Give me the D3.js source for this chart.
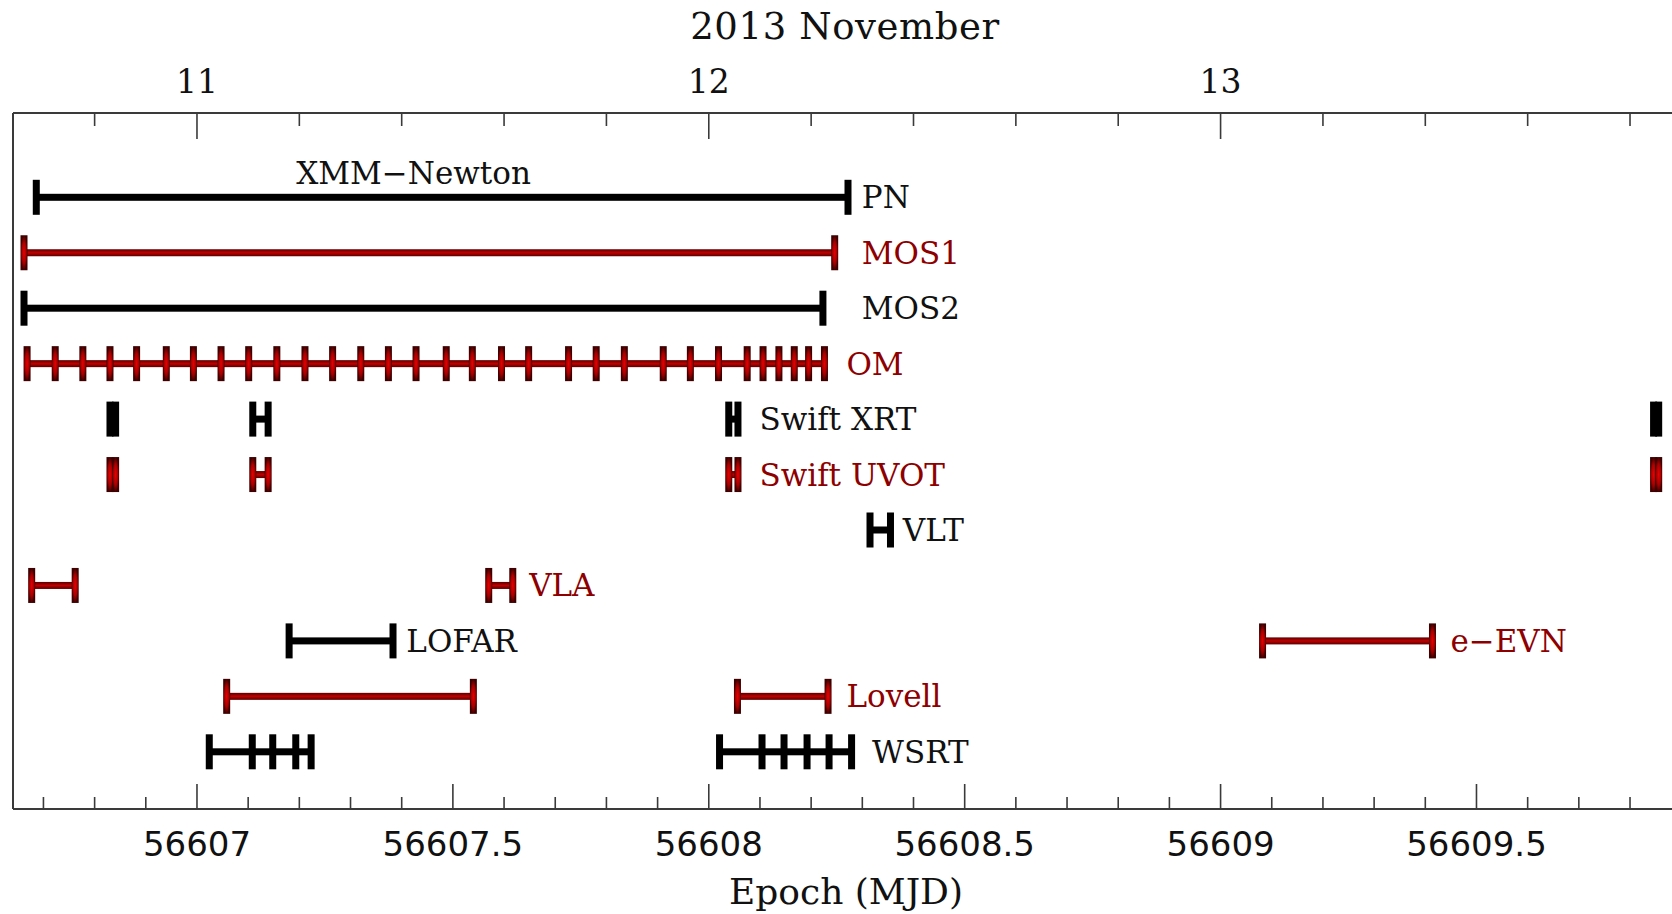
<!DOCTYPE html>
<html>
<head>
<meta charset="utf-8">
<script src="https://cdn.jsdelivr.net/npm/d3@7"></script>
<style>
	body { margin: 0; background: #fff; }
	svg text { font-family: "DejaVu Serif", serif; }
</style>
</head>
<body>
<svg id="figure_container"></svg>
<script>
// instruments, one per drawn series (e-EVN shares the LOFAR lane)
var instruments = ["PN", "MOS1", "MOS2", "OM", "Swift XRT", "Swift UVOT", "VLT",
		"VLA", "LOFAR", "e\u2212EVN", "Lovell", "WSRT"],
	lanes = [0, 1, 2, 3, 4, 5, 6, 7, 8, 8, 9, 10],
	isRed = [false, true, false, true, false, true, false, true, false, true, true, false];

// observing windows (MJD); each segment lists its end marks in order
var pnWin = [[56606.687, 56608.273]],
	mos1Win = [[56606.663, 56608.247]],
	mos2Win = [[56606.663, 56608.224]],
	omWin = [[56606.669, 56606.724, 56606.778, 56606.831, 56606.883, 56606.941,
		56606.994, 56607.048, 56607.102, 56607.157, 56607.212, 56607.266,
		56607.321, 56607.375, 56607.429, 56607.488, 56607.539, 56607.596,
		56607.649, 56607.727, 56607.781, 56607.836, 56607.912, 56607.965,
		56608.020, 56608.076, 56608.107, 56608.138, 56608.168, 56608.196,
		56608.227]],
	xrtWin = [[56606.831, 56606.842], [56607.110, 56607.140],
		[56608.040, 56608.058], [56609.847, 56609.857]],
	uvotWin = [[56606.831, 56606.842], [56607.110, 56607.140],
		[56608.040, 56608.058], [56609.847, 56609.857]],
	vltWin = [[56608.316, 56608.356]],
	vlaWin = [[56606.678, 56606.763], [56607.571, 56607.618]],
	lofarWin = [[56607.181, 56607.384]],
	evnWin = [[56609.083, 56609.415]],
	lovellWin = [[56607.059, 56607.541], [56608.057, 56608.234]],
	wsrtWin = [[56607.025, 56607.109, 56607.149, 56607.194, 56607.224],
		[56608.022, 56608.105, 56608.148, 56608.193, 56608.236, 56608.280]];

var windows = [pnWin, mos1Win, mos2Win, omWin, xrtWin, uvotWin, vltWin,
		vlaWin, lofarWin, evnWin, lovellWin, wsrtWin];

// where each name is written (MJD)
var labelAt = [56608.30, 56608.30, 56608.30, 56608.27, 56608.10, 56608.10,
		56608.38, 56607.65, 56607.41, 56609.45, 56608.27, 56608.32];

var mjdMajor = [56607, 56607.5, 56608, 56608.5, 56609, 56609.5],
	mjdLabels = ["56607", "56607.5", "56608", "56608.5", "56609", "56609.5"],
	dayMajor = [11, 12, 13],
	dayLabels = ["11", "12", "13"];

var W = 1672, H = 914,
	leftX = 13, topY = 113, bottomY = 809,
	mjdMin = 56606.6415, mjdMax = 56609.97,
	dayOffset = 56596; // MJD 56607 = 2013 Nov 11

var vis = d3.select("#figure_container").attr("width", W).attr("height", H);
vis.append("rect").attr("width", W).attr("height", H).attr("fill", "#fff");

var x = d3.scaleLinear().domain([mjdMin, mjdMax]).range([leftX, leftX + (mjdMax - mjdMin) * 511.8]);
var xDay = d3.scaleLinear().domain([mjdMin - dayOffset, mjdMax - dayOffset]).range(x.range());
var y = d3.scalePoint().domain(d3.range(11)).range([197.3, 751.8]);

// gradients for the shaded red bars
var defs = vis.append("defs");
var gLine = defs.append("linearGradient").attr("id", "redLine")
	.attr("x1", 0).attr("y1", 0).attr("x2", 0).attr("y2", 1);
gLine.append("stop").attr("offset", "0%").attr("stop-color", "#5a0000");
gLine.append("stop").attr("offset", "50%").attr("stop-color", "#c00000");
gLine.append("stop").attr("offset", "100%").attr("stop-color", "#5a0000");
var gCap = defs.append("radialGradient").attr("id", "redCap")
	.attr("cx", 0.5).attr("cy", 0.5).attr("r", 0.5);
gCap.append("stop").attr("offset", "0%").attr("stop-color", "#e80000");
gCap.append("stop").attr("offset", "60%").attr("stop-color", "#a80000");
gCap.append("stop").attr("offset", "100%").attr("stop-color", "#3c0000");

// frame
var frame = vis.append("g").attr("stroke", "#3a3a3a").attr("stroke-width", 2);
frame.append("line").attr("x1", leftX).attr("x2", W + 5).attr("y1", topY).attr("y2", topY);
frame.append("line").attr("x1", leftX).attr("x2", W + 5).attr("y1", bottomY).attr("y2", bottomY);
frame.append("line").attr("x1", leftX).attr("x2", leftX).attr("y1", topY).attr("y2", bottomY);

// minor tick positions
var mjdMinor = d3.range(0, 40).map(function(i){ return 56606 + i / 10; })
	.filter(function(d){ return d > mjdMin && d < mjdMax && mjdMajor.indexOf(Math.round(d * 10) / 10) < 0; });
var dayMinor = d3.range(0, 25).map(function(i){ return 10 + i / 5; })
	.filter(function(d){ return d > mjdMin - dayOffset && d < mjdMax - dayOffset && dayMajor.indexOf(Math.round(d * 10) / 10) < 0; });

function styleAxis(g){
	g.select(".domain").remove();
	g.selectAll(".tick line").attr("stroke", "#3a3a3a").attr("stroke-width", 1.6);
}

// bottom axis (MJD)
vis.append("g").attr("transform", "translate(0," + bottomY + ")")
	.call(d3.axisBottom(x).tickValues(mjdMinor).tickSize(-12).tickFormat(""))
	.call(styleAxis);
var bAx = vis.append("g").attr("transform", "translate(0," + bottomY + ")")
	.call(d3.axisBottom(x).tickValues(mjdMajor).tickSize(-25)
		.tickFormat(function(d, i){ return mjdLabels[i]; }))
	.call(styleAxis);
bAx.selectAll("text").attr("y", 47).attr("dy", null)
	.attr("fill", "#111").style("font-family", "'DejaVu Sans', sans-serif").style("font-size", "34px");

// top axis (day of 2013 November)
vis.append("g").attr("transform", "translate(0," + topY + ")")
	.call(d3.axisTop(xDay).tickValues(dayMinor).tickSize(-13).tickFormat(""))
	.call(styleAxis);
var tAx = vis.append("g").attr("transform", "translate(0," + topY + ")")
	.call(d3.axisTop(xDay).tickValues(dayMajor).tickSize(-26)
		.tickFormat(function(d, i){ return dayLabels[i]; }))
	.call(styleAxis);
tAx.selectAll("text").attr("y", -20).attr("dy", null)
	.attr("fill", "#111").style("font-family", "'DejaVu Serif', serif").style("font-size", "33px");

vis.append("text").attr("x", 845).attr("y", 39).attr("text-anchor", "middle")
	.style("font-size", "37px").style("letter-spacing", "0.6px").attr("fill", "#111").text("2013 November");
vis.append("text").attr("x", 846).attr("y", 904).attr("text-anchor", "middle")
	.style("font-size", "36px").attr("fill", "#111").text("Epoch (MJD)");

// observation bars
var lineW = 7, capW = 7, capH = 35;

instruments.forEach(function(name, i){
	var yc = y(lanes[i]),
		fillLine = isRed[i] ? "url(#redLine)" : "#000",
		fillCap = isRed[i] ? "url(#redCap)" : "#000",
		g = vis.append("g");

	windows[i].forEach(function(seg){
		g.append("rect")
			.attr("x", x(seg[0]))
			.attr("y", yc - lineW / 2)
			.attr("width", x(seg[seg.length - 1]) - x(seg[0]))
			.attr("height", lineW)
			.attr("fill", fillLine);
		g.selectAll(null).data(seg).enter().append("rect")
			.attr("x", function(d){ return x(d) - capW / 2; })
			.attr("y", yc - capH / 2)
			.attr("width", capW)
			.attr("height", capH)
			.attr("fill", fillCap);
	});

	vis.append("text")
		.attr("x", x(labelAt[i]))
		.attr("y", yc + 11)
		.style("font-size", "31px")
		.attr("fill", isRed[i] ? "#8e0000" : "#111")
		.text(name);
});

vis.append("text").attr("x", x(56607.195)).attr("y", 184)
	.style("font-size", "31px").attr("fill", "#111").text("XMM\u2212Newton");
</script>
</body>
</html>
